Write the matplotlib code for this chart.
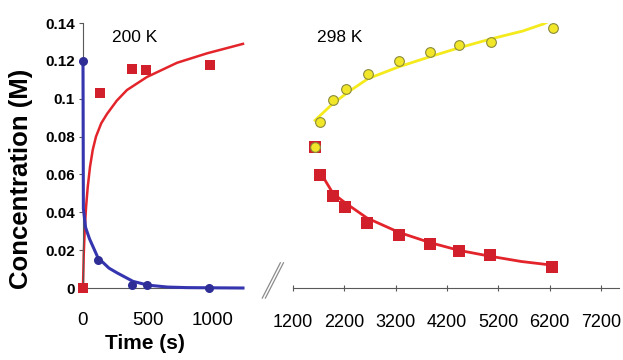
"""
Two-panel kinetics plot: concentration vs time at 200 K and 298 K with a broken time axis.
"""

import matplotlib.pyplot as plt
from matplotlib.lines import Line2D

plt.rcParams["font.family"] = ["Liberation Sans", "DejaVu Sans"]

# 200 K panel (left)
t200_red = [0, 130, 377, 485, 977]
c200_red = [0.0, 0.103, 0.1157, 0.115, 0.118]
t200_blue = [0, 115, 377, 490, 970]
c200_blue = [0.120, 0.0150, 0.0016, 0.0016, 0.0]

fit200_red_t = [0, 6, 14, 24, 36, 54, 75, 100, 140, 185, 260, 338, 492, 723, 954, 1230]
fit200_red_c = [0.0, 0.018, 0.032, 0.043, 0.053, 0.064, 0.073, 0.080, 0.087, 0.092, 0.099, 0.1046, 0.1115, 0.119, 0.124, 0.129]
fit200_blue_t = [0, 3, 20, 50, 115, 200, 262, 385, 500, 650, 800, 1230]
fit200_blue_c = [0.120, 0.042, 0.032, 0.026, 0.0160, 0.0105, 0.0080, 0.0035, 0.0015, 0.0005, 0.0002, 0.0]

# 298 K panel (right)
t298_yel = [1629, 1726, 1979, 2233, 2661, 3265, 3869, 4434, 5057, 6265]
c298_yel = [0.0745, 0.0876, 0.0991, 0.1049, 0.1133, 0.1201, 0.1248, 0.1285, 0.1300, 0.1374]
t298_red = [1629, 1726, 1979, 2213, 2641, 3265, 3869, 4434, 5038, 6245]
c298_red = [0.0745, 0.0598, 0.0488, 0.0430, 0.0346, 0.0278, 0.0231, 0.0194, 0.0173, 0.0110]

fit298_yel_t = [1629, 1979, 2300, 2661, 3265, 3869, 4434, 5057, 5680, 6080, 6265]
fit298_yel_c = [0.0886, 0.0975, 0.1040, 0.1106, 0.1169, 0.1222, 0.1269, 0.1316, 0.1358, 0.1395, 0.1420]
fit298_red_t = [1726, 1979, 2213, 2641, 3265, 3869, 4434, 5038, 5650, 6245]
fit298_red_c = [0.0614, 0.0500, 0.0451, 0.0370, 0.0294, 0.0240, 0.0199, 0.0168, 0.0140, 0.0121]

left_xticks = [0, 500, 1000]
right_xticks = [1200, 2200, 3200, 4200, 5200, 6200, 7200]
yticks = [0, 0.02, 0.04, 0.06, 0.08, 0.1, 0.12, 0.14]
ytick_labels = ["0", "0.02", "0.04", "0.06", "0.08", "0.1", "0.12", "0.14"]

RED = "#d21f2c"
RED_LINE = "#e3242b"
BLUE = "#2e2e96"
BLUE_LINE = "#3535b0"
YEL = "#f2e628"
YEL_LINE = "#f4ea1c"
AXIS = "0.35"

fig = plt.figure(figsize=(6.23, 3.6), dpi=100)
ax1 = fig.add_axes([0.1332, 0.2, 0.2568, 0.736])
ax2 = fig.add_axes([0.4703, 0.2, 0.523, 0.736])

# left panel
ax1.plot(fit200_red_t, fit200_red_c, color=RED_LINE, lw=1.8, zorder=2, clip_on=False)
ax1.plot(fit200_blue_t, fit200_blue_c, color=BLUE_LINE, lw=2.2, zorder=3, clip_on=False)
ax1.plot(t200_red, c200_red, "s", color=RED, ms=7.5, mew=0, zorder=4, clip_on=False)
ax1.plot(t200_blue, c200_blue, "o", color=BLUE, ms=6.5, mew=0, zorder=5, clip_on=False)
ax1.set_xlim(0, 1230)
ax1.set_ylim(0, 0.14)
ax1.set_xticks(left_xticks)
ax1.set_yticks(yticks)
ax1.set_yticklabels(ytick_labels)
for side in ("top", "right"):
    ax1.spines[side].set_visible(False)
for side in ("left", "bottom"):
    ax1.spines[side].set_color(AXIS)
    ax1.spines[side].set_linewidth(0.8)
ax1.tick_params(axis="y", direction="out", length=3, color=AXIS, labelsize=11, pad=3)
ax1.tick_params(axis="x", direction="out", length=0, labelsize=13.5, pad=17)
for lab in ax1.get_yticklabels():
    lab.set_fontweight("bold")
ax1.set_ylabel("Concentration (M)", fontsize=18.5, fontweight="bold")
ax1.yaxis.set_label_coords(-0.3125, 0.41)
ax1.set_xlabel("Time (s)", fontsize=15, fontweight="bold")
ax1.xaxis.set_label_coords(0.39, -0.175)
ax1.text(400, 0.1326, "200 K", fontsize=12.5, ha="center", va="center")

# right panel
ax2.plot(fit298_yel_t, fit298_yel_c, color=YEL_LINE, lw=2.0, zorder=2)
ax2.plot(fit298_red_t, fit298_red_c, color=RED_LINE, lw=2.0, zorder=2)
ax2.plot(t298_red, c298_red, "s", color=RED, ms=8.5, mew=0, zorder=3)
ax2.plot(t298_yel, c298_yel, "o", mfc=YEL, mec="#8a8a3a", ms=7, mew=0.8, zorder=4)
ax2.set_xlim(1200, 7550)
ax2.set_ylim(0, 0.14)
ax2.set_xticks(right_xticks)
ax2.set_yticks([])
for side in ("top", "right", "left"):
    ax2.spines[side].set_visible(False)
ax2.spines["bottom"].set_color(AXIS)
ax2.spines["bottom"].set_linewidth(0.8)
ax2.tick_params(axis="x", direction="inout", length=5, color=AXIS, labelsize=13, pad=16)
ax2.text(2116, 0.1326, "298 K", fontsize=12.5, ha="center", va="center")

# axis break marks
for dx in (0.0, 0.005):
    fig.add_artist(Line2D([0.421 + dx, 0.450 + dx], [0.172, 0.27], color="0.55", lw=0.9))

fig.savefig("out.png", dpi=100)
